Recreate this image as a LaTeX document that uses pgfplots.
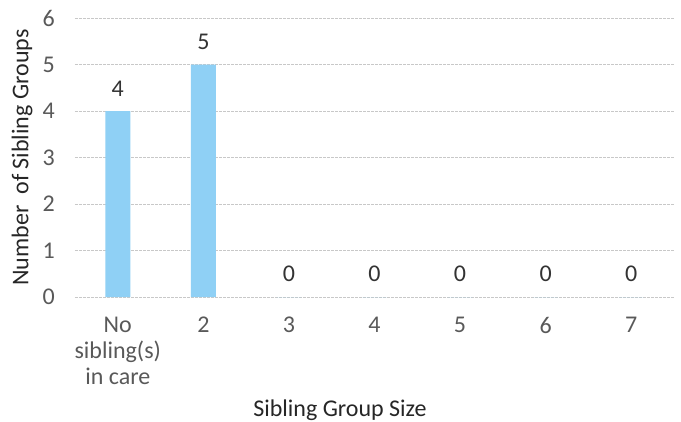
\documentclass[border=0pt]{standalone}
\usepackage{pgfplots}
\pgfplotsset{compat=1.18}
\usepackage{fontspec}
\setmainfont{Carlito}
\definecolor{barblue}{RGB}{143,208,245}
\definecolor{txtgrey}{RGB}{89,89,89}
\definecolor{gridgrey}{RGB}{200,200,200}
\begin{document}
\fontsize{18}{19.5}\selectfont
\begin{tikzpicture}
\begin{axis}[
  scale only axis,
  width=449.25pt, height=209.25pt,
  anchor=south west, at={(0,0)},
  xmin=-0.5, xmax=6.5, ymin=0, ymax=6,
  axis line style={draw=none},
  ytick={0,1,2,3,4,5,6},
  xtick=data,
  xticklabels={{No\\sibling(s)\\in care},2,3,4,5,6,7},
  major tick length=0pt,
  ymajorgrids,
  major grid style={gridgrey, dash pattern=on 2pt off 1pt, line width=0.6pt},
  ybar, bar width=18.75pt,
  font=\fontsize{18}{19.5}\selectfont,
  tick label style={color=txtgrey, font=\fontsize{18}{19.5}\selectfont},
  xticklabel style={align=center, anchor=north, yshift=-9pt},
  yticklabel style={anchor=east, xshift=-9pt},
  /pgf/number format/assume math mode=true,
  nodes near coords,
  every node near coord/.append style={color=black!80, font=\fontsize{18}{19.5}\selectfont, yshift=5pt},
  xlabel={Sibling Group Size},
  ylabel={Number\ \ of Sibling Groups},
  xlabel style={at={(axis description cs:0.4424,-0.405)}, anchor=center, color=black!85},
  ylabel style={at={(axis description cs:-0.0885,0.5)}, anchor=center, color=black!85},
]
\addplot[fill=barblue, draw=none] coordinates {(0,4) (1,5) (2,0) (3,0) (4,0) (5,0) (6,0)};
\end{axis}
\pgfresetboundingbox
\path[use as bounding box] (-56.25pt,-93pt) rectangle (454.5pt,222.75pt);
\end{tikzpicture}
\end{document}
